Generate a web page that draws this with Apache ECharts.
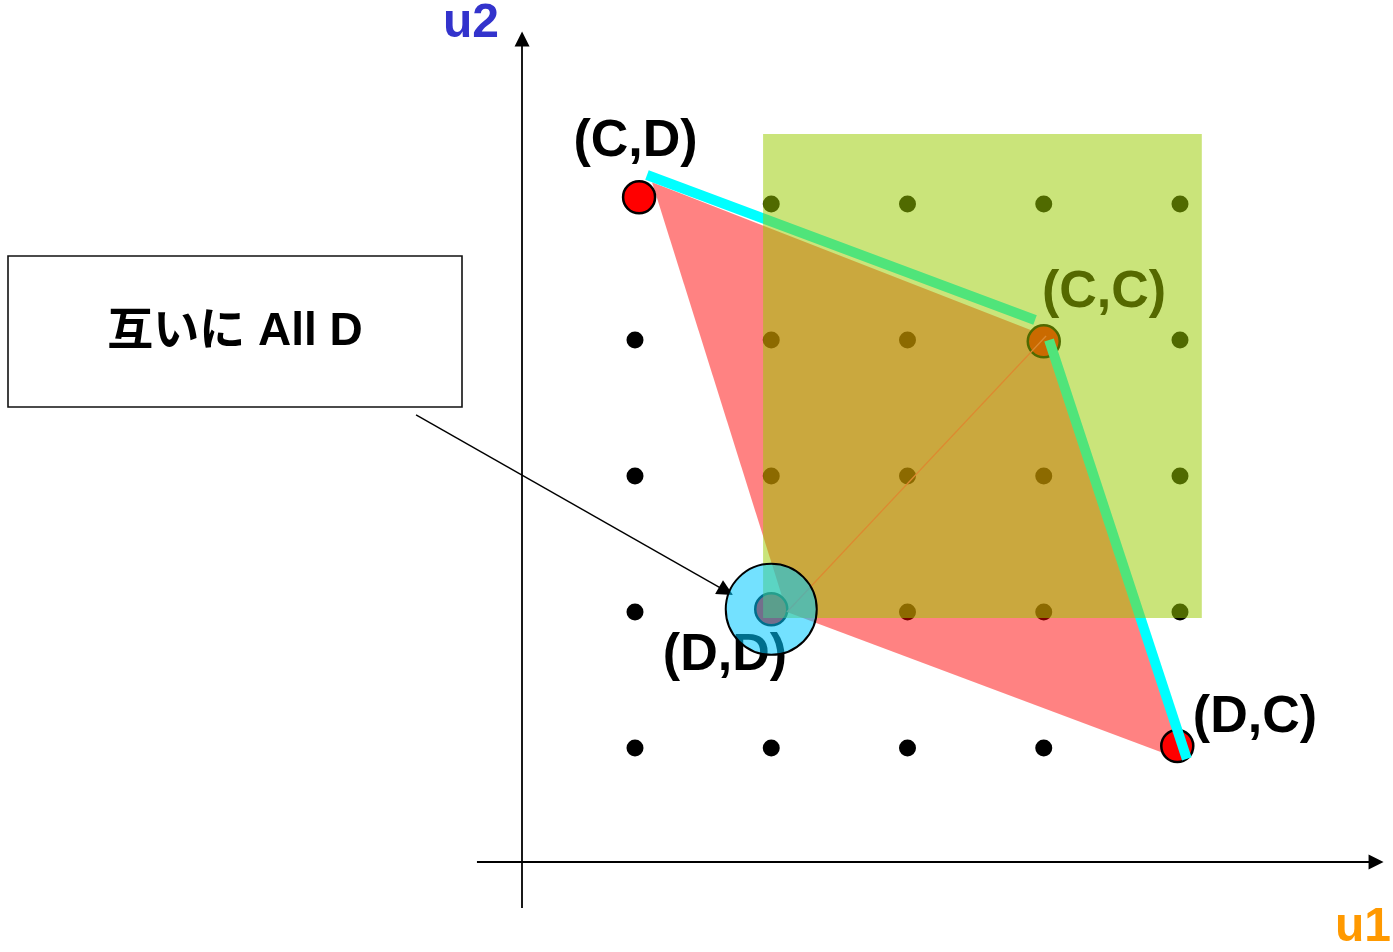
<!DOCTYPE html>
<html>
<head>
<meta charset="utf-8">
<title>u1-u2 payoff</title>
<script src="https://cdn.jsdelivr.net/npm/echarts@6/dist/echarts.min.js"></script>
<style>
  html, body { margin: 0; padding: 0; background: #fff; }
  #chart { width: 1393px; height: 952px; }
</style>
</head>
<body>
<div id="chart"></div>
<script>
// payoff grid (u1, u2)
const gridU1 = [1, 2, 3, 4, 5];
const gridU2 = [1, 2, 3, 4, 5];

// outcomes, order: (C,D) (C,C) (D,D) (D,C)
const outcomeNames = ['(C,D)', '(C,C)', '(D,D)', '(D,C)'];
const outcomeU1 = [1.03, 4.0, 2.0, 4.98];
const outcomeU2 = [5.05, 3.99, 2.02, 1.015];

// feasible region (red) and the rational box (green)
const hullU1 = [1.125, 4.017, 5.02, 2.115];
const hullU2 = [5.16, 4.029, 0.91, 2.0];
const boxU1 = [1.94, 5.16];
const boxU2 = [1.956, 5.515];

// pareto frontier, two pieces
const frontierAU1 = [1.088, 3.936];
const frontierAU2 = [5.213, 4.147];
const frontierBU1 = [4.039, 5.05];
const frontierBU2 = [4.0, 0.92];

// thin diagonal (D,D) -> (C,C)
const diagU1 = [2.115, 4.017];
const diagU2 = [2.0, 4.029];

// axes: crossing point and extents
const axisCross = [0.171, 0.162];
const xAxisU1 = [-0.16, 6.439];
const yAxisU2 = [-0.176, 6.213];

// text anchors
const labelTexts = ['(C,D)', '(C,C)', '(D,D)', '(D,C)', 'u2', 'u1'];
const labelU1 = [1.004, 4.442, 1.66, 5.55, -0.204, 6.343];
const labelU2 = [5.456, 4.346, 1.676, 1.22, 6.324, -0.324];

// annotation arrow "互いに All D" -> (D,D)
const noteArrowU1 = [-0.607, 1.668];
const noteArrowU2 = [3.449, 2.154];

const FONT = '"Liberation Sans", Arial, "Noto Sans CJK JP", sans-serif';
const labelColors = ['#000', '#556900', '#000', '#000', '#3333cc', '#ff9900'];
const labelSizes = [52, 52, 52, 52, 48, 48];

const zip = (a, b) => a.map((v, i) => [v, b[i]]);

const gridDots = [];
gridU2.forEach(y => gridU1.forEach(x => gridDots.push([x, y])));

const outcomes = zip(outcomeU1, outcomeU2);
const hull = zip(hullU1, hullU2);
const box = [[boxU1[0], boxU2[0]], [boxU1[1], boxU2[0]], [boxU1[1], boxU2[1]], [boxU1[0], boxU2[1]]];

function polygonSeries(points, fill, z) {
  return {
    type: 'custom',
    z: z,
    silent: true,
    data: points,
    encode: { x: 0, y: 1 },
    renderItem: function (params, api) {
      if (params.dataIndex !== 0) return null;
      return {
        type: 'polygon',
        shape: { points: points.map(p => api.coord(p)) },
        style: { fill: fill }
      };
    }
  };
}

function segmentSeries(xs, ys, color, width, z) {
  return {
    type: 'line',
    z: z,
    silent: true,
    data: zip(xs, ys),
    showSymbol: false,
    symbol: 'none',
    lineStyle: { color: color, width: width, cap: 'butt', opacity: 1 }
  };
}

const chart = echarts.init(document.getElementById('chart'));

chart.setOption({
  animation: false,
  grid: { left: 0, right: 0, top: 0, bottom: 0 },
  xAxis: { type: 'value', min: -3.6606, max: 6.5633, show: false },
  yAxis: { type: 'value', min: -0.5, max: 6.5, show: false },
  graphic: [
    {
      type: 'rect',
      z: 10,
      shape: { x: 8, y: 256, width: 454, height: 151 },
      style: { fill: '#fff', stroke: '#111', lineWidth: 1.6 }
    },
    {
      type: 'text',
      z: 11,
      x: 235,
      y: 332,
      style: {
        text: '互いに All D',
        font: 'bold 46px ' + FONT,
        fill: '#000',
        align: 'center',
        verticalAlign: 'middle'
      }
    }
  ],
  series: [
    {
      // grid dots + the two axes
      type: 'scatter',
      z: 1,
      silent: true,
      data: gridDots,
      symbolSize: 17,
      itemStyle: { color: '#000', opacity: 1 },
      markLine: {
        silent: true,
        symbol: ['none', 'triangle'],
        symbolSize: 15,
        label: { show: false },
        lineStyle: { color: '#000', width: 1.8, type: 'solid', opacity: 1 },
        data: [
          [{ coord: [xAxisU1[0], axisCross[1]] }, { coord: [xAxisU1[1], axisCross[1]] }],
          [{ coord: [axisCross[0], yAxisU2[0]] }, { coord: [axisCross[0], yAxisU2[1]] }]
        ]
      }
    },
    polygonSeries(hull, 'rgba(255,0,0,0.49)', 2),
    {
      type: 'scatter',
      z: 3,
      silent: true,
      data: outcomes,
      symbolSize: 32,
      itemStyle: { color: '#ff0000', borderColor: '#000', borderWidth: 2.5, opacity: 1 }
    },
    segmentSeries(frontierAU1, frontierAU2, '#00ffff', 10, 4),
    segmentSeries(frontierBU1, frontierBU2, '#00ffff', 10, 4),
    polygonSeries(box, 'rgba(153,204,0,0.52)', 5),
    segmentSeries(diagU1, diagU2, '#dc8a30', 1.3, 5.5),
    {
      // texts
      type: 'scatter',
      z: 6,
      silent: true,
      symbolSize: 1,
      itemStyle: { color: 'rgba(0,0,0,0)', opacity: 1 },
      data: labelTexts.map((t, i) => ({
        name: t,
        value: [labelU1[i], labelU2[i]],
        label: { color: labelColors[i], fontSize: labelSizes[i] }
      })),
      label: {
        show: true,
        position: 'inside',
        formatter: p => p.name,
        fontWeight: 'bold',
        fontFamily: FONT,
        opacity: 1
      }
    },
    {
      // highlight circle round (D,D)
      type: 'scatter',
      z: 7,
      silent: true,
      data: [outcomes[2]],
      symbolSize: 91,
      itemStyle: { color: 'rgba(0,200,255,0.55)', borderColor: '#000', borderWidth: 2, opacity: 1 }
    },
    {
      type: 'scatter',
      z: 8,
      silent: true,
      data: [],
      markLine: {
        silent: true,
        symbol: ['none', 'triangle'],
        symbolSize: 16,
        label: { show: false },
        lineStyle: { color: '#000', width: 1.4, type: 'solid', opacity: 1 },
        data: [
          [{ coord: [noteArrowU1[0], noteArrowU2[0]] }, { coord: [noteArrowU1[1], noteArrowU2[1]] }]
        ]
      }
    }
  ]
});
</script>
</body>
</html>
